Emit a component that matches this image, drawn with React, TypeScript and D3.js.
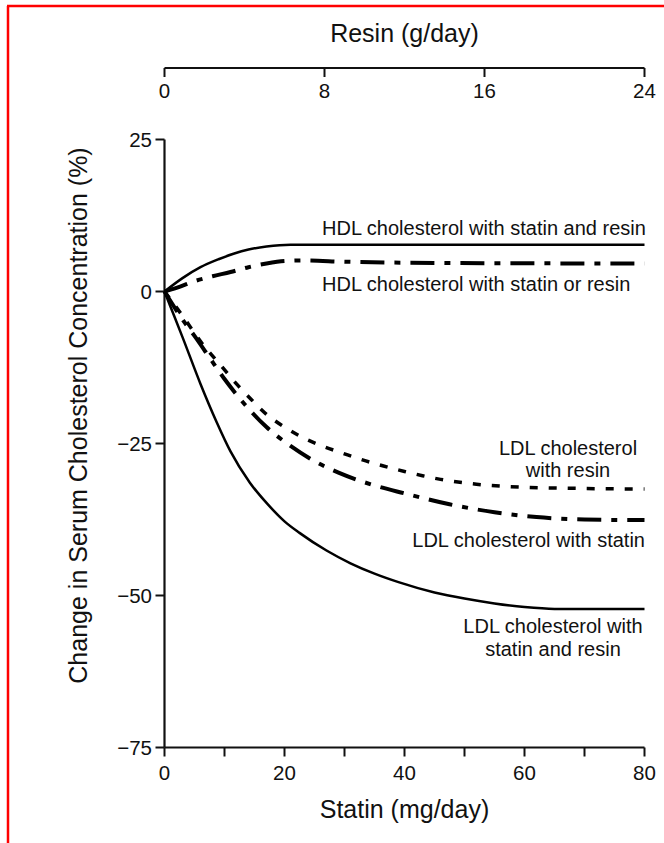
import React from "react";
import * as d3 from "d3";

// ---- data ----
const statinTicks = [0, 20, 40, 60, 80];
const statinMinorTicks = [10, 30, 50, 70];
const resinTicks = [0, 8, 16, 24];
const yTicks = [25, 0, -25, -50, -75];

const hdlBothX = [0, 3, 6, 9, 11.5, 14, 17, 21, 25, 40, 60, 80];
const hdlBothY = [0, 2.2, 4.0, 5.3, 6.2, 6.9, 7.4, 7.7, 7.7, 7.7, 7.7, 7.7];

const hdlSingleX = [0, 2, 5, 8, 11, 14, 17, 20, 23, 30, 45, 80];
const hdlSingleY = [0, 0.6, 1.7, 2.5, 3.2, 4.0, 4.6, 5.0, 5.1, 4.9, 4.7, 4.6];

const ldlResinX = [0, 3, 6, 9.5, 12, 14.5, 17, 20, 23, 26, 30, 33, 36.5, 40, 43, 46, 52, 60, 70, 80];
const ldlResinY = [0, -4, -8.2, -12.3, -15.2, -17.8, -20.2, -22.3, -24.0, -25.3, -26.7, -27.7, -28.7, -29.6, -30.3, -30.9, -31.7, -32.2, -32.4, -32.5];

const ldlStatinX = [0, 3, 5, 7.6, 10, 13.5, 17, 21, 25, 29, 35, 40, 47.5, 55, 62, 70, 80];
const ldlStatinY = [0, -4.6, -7.3, -11.0, -14.4, -18.7, -22.3, -25.4, -27.9, -29.8, -31.9, -33.2, -35.0, -36.3, -37.1, -37.5, -37.6];

const ldlBothX = [0, 1, 3, 6, 8.7, 11, 14.2, 17.3, 20, 22.5, 27, 31, 35, 39, 45, 50, 55, 60, 65, 80];
const ldlBothY = [0, -2.5, -7.5, -15.2, -21.5, -26.3, -31.4, -35.1, -37.8, -39.7, -42.6, -44.7, -46.4, -47.8, -49.5, -50.5, -51.3, -51.9, -52.2, -52.2];

const FONT = "'Liberation Sans', Arial, Helvetica, sans-serif";

export default function App() {
  const W = 664;
  const H = 843;
  const x0 = 164.5;
  const x1 = 644.5;
  const yTop = 139.5;
  const yBot = 747.5;

  const x = d3.scaleLinear().domain([0, 80]).range([x0, x1]);
  const xr = d3.scaleLinear().domain([0, 24]).range([x0, x1]);
  const y = d3.scaleLinear().domain([-75, 25]).range([yBot, yTop]);

  const line = d3
    .line<[number, number]>()
    .x((d) => x(d[0]))
    .y((d) => y(d[1]))
    .curve(d3.curveMonotoneX);

  const zip = (xs: number[], ys: number[]) => xs.map((v, i) => [v, ys[i]] as [number, number]);

  const series = [
    { xs: hdlBothX, ys: hdlBothY, dash: "none", w: 2.5 },
    { xs: hdlSingleX, ys: hdlSingleY, dash: "24,10,6,10", w: 4 },
    { xs: ldlResinX, ys: ldlResinY, dash: "8,11", w: 3.5 },
    { xs: ldlStatinX, ys: ldlStatinY, dash: "24,10,6,10", w: 4 },
    { xs: ldlBothX, ys: ldlBothY, dash: "none", w: 2.5 },
  ];

  const topAxisY = 68;

  return (
    <svg
      width={W}
      height={H}
      style={{ position: "absolute", left: 0, top: 0, background: "#fff" }}
      fontFamily={FONT}
    >
      <rect x={0} y={0} width={W} height={H} fill="#fff" />
      {/* red frame (top and left visible) */}
      <line x1={7} y1={6} x2={W} y2={6} stroke="#ff0000" strokeWidth={2.5} />
      <line x1={8} y1={6} x2={8} y2={H} stroke="#ff0000" strokeWidth={2.5} />

      {/* top axis: resin */}
      <text x={(x0 + x1) / 2} y={42} textAnchor="middle" fontSize={25} fill="#111">
        Resin (g/day)
      </text>
      <line x1={x0} y1={topAxisY} x2={x1} y2={topAxisY} stroke="#111" strokeWidth={2} />
      {resinTicks.map((t) => (
        <g key={"r" + t}>
          <line x1={xr(t)} y1={topAxisY} x2={xr(t)} y2={topAxisY + 9} stroke="#111" strokeWidth={2} />
          <text x={xr(t)} y={98} textAnchor="middle" fontSize={20.5} fill="#111">
            {t}
          </text>
        </g>
      ))}

      {/* y axis */}
      <line x1={x0} y1={yTop} x2={x0} y2={yBot} stroke="#111" strokeWidth={2.2} />
      {yTicks.map((t) => (
        <g key={"y" + t}>
          <line x1={x0 - 9} y1={y(t)} x2={x0} y2={y(t)} stroke="#111" strokeWidth={2} />
          <text x={152} y={y(t) + 7} textAnchor="end" fontSize={20.5} fill="#111">
            {t < 0 ? "\u2212" + Math.abs(t) : t}
          </text>
        </g>
      ))}
      <text
        transform={`translate(87,${(yTop + yBot) / 2 - 28}) rotate(-90)`}
        textAnchor="middle"
        fontSize={25}
        fill="#111"
      >
        Change in Serum Cholesterol Concentration (%)
      </text>

      {/* bottom axis: statin */}
      <line x1={x0} y1={yBot} x2={x1} y2={yBot} stroke="#111" strokeWidth={2.2} />
      {[...statinTicks, ...statinMinorTicks].map((t) => (
        <line key={"s" + t} x1={x(t)} y1={yBot} x2={x(t)} y2={yBot + 9} stroke="#111" strokeWidth={2} />
      ))}
      {statinTicks.map((t) => (
        <text key={"sl" + t} x={x(t)} y={780} textAnchor="middle" fontSize={20.5} fill="#111">
          {t}
        </text>
      ))}
      <text x={(x0 + x1) / 2} y={818} textAnchor="middle" fontSize={25} fill="#111">
        Statin (mg/day)
      </text>

      {/* curves */}
      {series.map((s, i) => (
        <path
          key={"c" + i}
          d={line(zip(s.xs, s.ys)) || ""}
          fill="none"
          stroke="#000"
          strokeWidth={s.w}
          strokeDasharray={s.dash}
        />
      ))}

      {/* curve labels */}
      <g fontSize={20} fill="#111">
        <text x={322} y={235}>HDL cholesterol with statin and resin</text>
        <text x={322} y={291}>HDL cholesterol with statin or resin</text>
        <text x={568} y={455} textAnchor="middle">LDL cholesterol</text>
        <text x={568} y={477} textAnchor="middle">with resin</text>
        <text x={645} y={547} textAnchor="end">LDL cholesterol with statin</text>
        <text x={553} y={633} textAnchor="middle">LDL cholesterol with</text>
        <text x={553} y={656} textAnchor="middle">statin and resin</text>
      </g>
    </svg>
  );
}
